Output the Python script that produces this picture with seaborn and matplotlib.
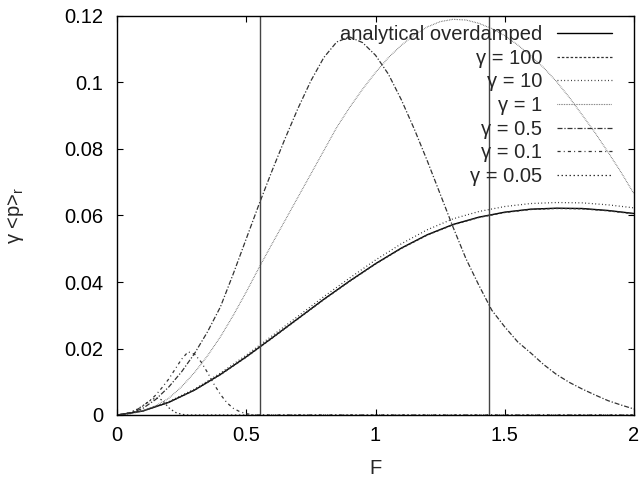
import numpy as np
import pandas as pd
import matplotlib
matplotlib.use("Agg")
import matplotlib.pyplot as plt
import seaborn as sns

# ---------------- data ----------------
F_coarse = [0.0, 0.1, 0.2, 0.3, 0.4, 0.5, 0.6, 0.7, 0.8, 0.9, 1.0,
            1.1, 1.2, 1.3, 1.4, 1.5, 1.6, 1.7, 1.8, 1.9, 2.0]
analytical = [0.0, 0.0012, 0.0038, 0.0075, 0.0122, 0.0175, 0.0232, 0.0290, 0.0348, 0.0403, 0.0455,
              0.0502, 0.0542, 0.0573, 0.0595, 0.0610, 0.0619, 0.0622, 0.0621, 0.0615, 0.0606]
gamma_100 = [0.0, 0.0012, 0.0038, 0.0075, 0.0121, 0.0174, 0.0231, 0.0289, 0.0347, 0.0402, 0.0454,
             0.0501, 0.0541, 0.0572, 0.0594, 0.0609, 0.0618, 0.0621, 0.0620, 0.0614, 0.0605]
gamma_10 = [0.0, 0.0013, 0.0040, 0.0078, 0.0126, 0.0180, 0.0238, 0.0297, 0.0356, 0.0412, 0.0466,
            0.0515, 0.0557, 0.0590, 0.0612, 0.0627, 0.0636, 0.0639, 0.0638, 0.0632, 0.0623]

F_fine = [0.0, 0.05, 0.1, 0.15, 0.2, 0.25, 0.3, 0.35, 0.4, 0.45, 0.5, 0.55, 0.6, 0.65, 0.7,
          0.75, 0.8, 0.85, 0.9, 0.95, 1.0, 1.05, 1.1, 1.15, 1.2, 1.25, 1.3, 1.35, 1.4,
          1.45, 1.5, 1.55, 1.6, 1.65, 1.7, 1.75, 1.8, 1.85, 1.9, 1.95, 2.0]
gamma_1 = [0.0, 0.0003, 0.0012, 0.0028, 0.0050, 0.0085, 0.0128, 0.0178, 0.0235, 0.0300, 0.0370,
           0.0444, 0.0515, 0.0585, 0.0655, 0.0725, 0.0795, 0.0865, 0.0925, 0.0980, 0.1030,
           0.1075, 0.1112, 0.1143, 0.1167, 0.1183, 0.1190, 0.1188, 0.1178, 0.1162, 0.1141,
           0.1113, 0.1081, 0.1045, 0.1003, 0.0955, 0.0902, 0.0848, 0.0790, 0.0730, 0.0665]
gamma_05 = [0.0, 0.0005, 0.0020, 0.0047, 0.0084, 0.0130, 0.0185, 0.0250, 0.0325, 0.0425, 0.0530,
            0.0635, 0.0735, 0.0831, 0.0922, 0.1005, 0.1075, 0.1122, 0.1137, 0.1120, 0.1082,
            0.1025, 0.0948, 0.0860, 0.0765, 0.0665, 0.0565, 0.0470, 0.0390, 0.0315, 0.0265,
            0.0220, 0.0187, 0.0152, 0.0122, 0.0098, 0.0078, 0.0060, 0.0043, 0.0030, 0.0018]

F_small = [0.0, 0.025, 0.05, 0.075, 0.1, 0.125, 0.15, 0.175, 0.2, 0.225, 0.25, 0.275, 0.3,
           0.325, 0.35, 0.375, 0.4, 0.425, 0.45, 0.475, 0.5, 0.525, 0.55, 1.0, 1.5, 2.0]
gamma_01 = [0.0, 0.0002, 0.0007, 0.0015, 0.0027, 0.0042, 0.0060, 0.0083, 0.0108, 0.0138, 0.0168,
            0.0190, 0.0183, 0.0160, 0.0128, 0.0093, 0.0062, 0.0037, 0.0020, 0.0010, 0.0004,
            0.0001, 0.0, 0.0, 0.0, 0.0]
gamma_005 = [0.0, 0.0002, 0.0007, 0.0016, 0.0028, 0.0042, 0.0052, 0.0045, 0.0022, 0.0008, 0.0002,
             0.0, 0.0, 0.0, 0.0, 0.0, 0.0, 0.0, 0.0, 0.0, 0.0, 0.0, 0.0, 0.0, 0.0, 0.0]

vline_F = [0.555, 1.44]

labels = ["analytical overdamped", "γ = 100", "γ = 10", "γ = 1", "γ = 0.5", "γ = 0.1", "γ = 0.05"]
x_ticks = [0, 0.5, 1, 1.5, 2]
x_ticklabels = ["0", "0.5", "1", "1.5", "2"]
y_ticks = [0, 0.02, 0.04, 0.06, 0.08, 0.1, 0.12]
y_ticklabels = ["0", "0.02", "0.04", "0.06", "0.08", "0.1", "0.12"]

# ---------------- style ----------------
sns.set_style("ticks")
plt.rcParams["font.family"] = ["Liberation Sans", "DejaVu Sans"]
plt.rcParams["mathtext.default"] = "regular"

FS = 14.5

fig = plt.figure(figsize=(6.44, 4.83), dpi=100)
ax = fig.add_axes([117 / 644, 68 / 483, 517 / 644, 399 / 483])

series = [
    (F_coarse, analytical, dict(color="black", lw=1.0, ls="-")),
    (F_coarse, gamma_100, dict(color="#333333", lw=0.9, dashes=(2.0, 1.5))),
    (F_coarse, gamma_10, dict(color="#222222", lw=0.9, dashes=(0.7, 2.0))),
    (F_fine, gamma_1, dict(color="#555555", lw=0.8, dashes=(0.6, 0.9))),
    (F_fine, gamma_05, dict(color="#333333", lw=0.9, dashes=(4.0, 1.5, 1.0, 1.5))),
    (F_small, gamma_01, dict(color="#333333", lw=0.9, dashes=(2.5, 2.5, 0.8, 2.5))),
    (F_small, gamma_005, dict(color="#333333", lw=0.9, dashes=(1.2, 2.0))),
]

for (xs, ys, kw), lab in zip(series, labels):
    df = pd.DataFrame({"F": xs, "v": ys})
    sns.lineplot(data=df, x="F", y="v", ax=ax, label=lab, **kw)

for xv in vline_F:
    ax.axvline(xv, color="#444444", lw=1.0)

ax.set_xlim(0, 2)
ax.set_ylim(0, 0.12)
ax.set_xticks(x_ticks)
ax.set_xticklabels(x_ticklabels)
ax.set_yticks(y_ticks)
ax.set_yticklabels(y_ticklabels)
ax.tick_params(direction="in", top=True, right=True, length=4.5, width=0.8,
               labelsize=FS, colors="black")
ax.tick_params(axis="y", pad=10)
ax.tick_params(axis="x", pad=8)
for sp in ax.spines.values():
    sp.set_visible(True)
    sp.set_color("black")
    sp.set_linewidth(1.0)

ax.set_xlabel("F", fontsize=FS, labelpad=10)
ax.set_ylabel("γ <p>$_r$", fontsize=FS, labelpad=27)

leg = ax.legend(loc="upper right", bbox_to_anchor=(0.9574, 0.977), markerfirst=False,
                frameon=False, fontsize=FS, handlelength=2.75, handletextpad=0.7,
                labelspacing=0.23, borderaxespad=0.0, borderpad=0.0)

fig.savefig("out.png", dpi=100)
